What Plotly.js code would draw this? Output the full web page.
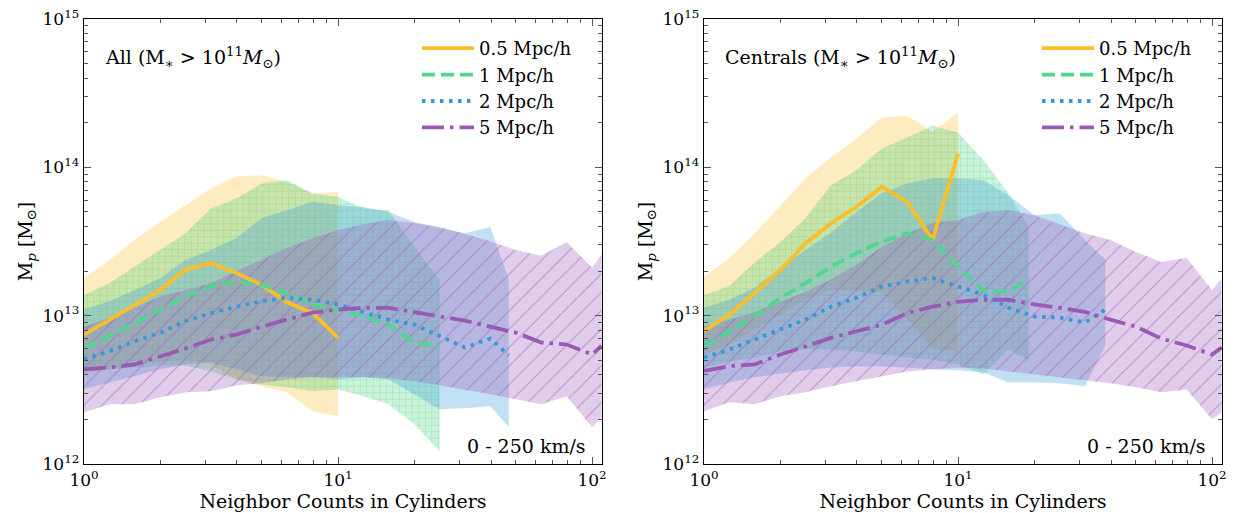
<!DOCTYPE html>
<html><head><meta charset="utf-8">
<script src="https://cdn.plot.ly/plotly-3.0.1.min.js"></script>
<style>html,body{margin:0;padding:0;background:#fff}#chart{width:1242px;height:513px}</style>
</head><body><div id="chart"></div>
<script>
// ---------- tick labels ----------
const xTickVals = [1, 10, 100];
const xTickText = ['10<sup>0</sup>', '10<sup>1</sup>', '10<sup>2</sup>'];
const yTickVals = [1e12, 1e13, 1e14, 1e15];
const yTickText = ['10<sup>12</sup>', '10<sup>13</sup>', '10<sup>14</sup>', '10<sup>15</sup>'];
const seriesNames = ['0.5 Mpc/h', '1 Mpc/h', '2 Mpc/h', '5 Mpc/h'];

// ---------- Left panel: All (M* > 1e11) ----------
const all_x_05   = [1, 1.26, 1.58, 2, 2.51, 3.16, 3.98, 5.01, 6.31, 7.94, 10];
const all_med_05 = [7.45e12, 9.4e12, 1.19e13, 1.49e13, 2.04e13, 2.26e13, 1.94e13, 1.61e13, 1.23e13, 1.04e13, 7.08e12];
const all_hi_05  = [1.79e13, 2.38e13, 3.24e13, 4.3e13, 5.56e13, 7.19e13, 8.71e13, 8.84e13, 7.97e13, 6.67e13, 6.83e13];
const all_lo_05  = [4.02e12, 4.35e12, 4.69e12, 4.91e12, 5.07e12, 4.69e12, 3.72e12, 3.34e12, 3.04e12, 2.27e12, 2.1e12];

const all_x_1    = [1, 1.26, 1.58, 2, 2.51, 3.16, 3.98, 5.01, 6.31, 7.94, 10, 12.6, 15.8, 20, 25.1];
const all_med_1  = [6.08e12, 7.27e12, 8.94e12, 1.1e13, 1.35e13, 1.57e13, 1.7e13, 1.61e13, 1.42e13, 1.19e13, 1.1e13, 9.89e12, 8.7e12, 6.59e12, 6.2e12];
const all_hi_1   = [1.38e13, 1.66e13, 2.14e13, 2.77e13, 3.6e13, 5.28e13, 6.17e13, 7.81e13, 8.18e13, 6.67e13, 6.32e13, 5.28e13, 5.14e13, 2.92e13, 1.75e13];
const all_lo_1   = [4.21e12, 4.35e12, 4.48e12, 4.62e12, 4.62e12, 4.21e12, 3.72e12, 3.44e12, 3.29e12, 3.09e12, 3.18e12, 2.86e12, 2.53e12, 1.85e12, 1.22e12];

const all_x_2    = [1, 1.26, 1.58, 2, 2.51, 3.16, 3.98, 5.01, 6.31, 7.94, 10, 12.6, 15.8, 20, 25.1, 31.6, 39.8, 47];
const all_med_2  = [5.07e12, 5.76e12, 6.72e12, 7.67e12, 9.2e12, 1.04e13, 1.15e13, 1.25e13, 1.32e13, 1.28e13, 1.19e13, 1.05e13, 9.4e12, 8.7e12, 7.34e12, 6.1e12, 7.01e12, 5.39e12];
const all_hi_2   = [1.1e13, 1.25e13, 1.49e13, 1.79e13, 2.38e13, 2.77e13, 3.34e13, 4.55e13, 5.14e13, 5.85e13, 5.56e13, 5.4e13, 4.99e13, 4.28e13, 3.9e13, 3.6e13, 3.96e13, 1.75e13];
const all_lo_2   = [3.18e12, 3.55e12, 3.9e12, 4.35e12, 4.69e12, 4.84e12, 4.35e12, 3.9e12, 3.84e12, 3.84e12, 3.72e12, 3.84e12, 3.72e12, 2.95e12, 2.34e12, 2.38e12, 2.45e12, 1.77e12];

const all_x_5    = [1, 1.26, 1.58, 2, 2.51, 3.16, 3.98, 5.01, 6.31, 7.94, 10, 12.6, 15.8, 20, 25.1, 31.6, 39.8, 50.1, 63.1, 79.4, 100, 109];
const all_med_5  = [4.35e12, 4.48e12, 4.69e12, 5.31e12, 6.01e12, 6.9e12, 7.45e12, 8.44e12, 9.4e12, 1.05e13, 1.1e13, 1.13e13, 1.13e13, 1.05e13, 9.87e12, 9.25e12, 8.44e12, 7.69e12, 6.59e12, 6.39e12, 5.47e12, 6.29e12];
const all_hi_5   = [8.44e12, 9.7e12, 1.13e13, 1.35e13, 1.49e13, 1.66e13, 2.0e13, 2.38e13, 2.86e13, 3.34e13, 3.78e13, 4.14e13, 4.41e13, 4.21e13, 3.96e13, 3.55e13, 3.18e13, 2.77e13, 2.53e13, 3.14e13, 2.1e13, 2.57e13];
const all_lo_5   = [2.23e12, 2.53e12, 2.53e12, 2.82e12, 3.04e12, 3.09e12, 3.39e12, 3.5e12, 3.72e12, 3.84e12, 3.84e12, 3.84e12, 3.78e12, 3.61e12, 3.39e12, 3.18e12, 2.95e12, 2.73e12, 2.53e12, 2.86e12, 1.77e12, 2.07e12];

// ---------- Right panel: Centrals (M* > 1e11) ----------
const cen_x_05   = [1, 1.26, 1.58, 2, 2.51, 3.16, 3.98, 5.01, 6.31, 7.94, 10];
const cen_med_05 = [7.85e12, 1.02e13, 1.42e13, 2.04e13, 3.08e13, 4.2e13, 5.42e13, 7.38e13, 5.85e13, 3.24e13, 1.24e14];
const cen_hi_05  = [1.84e13, 2.44e13, 3.58e13, 5.56e13, 8.4e13, 1.17e14, 1.56e14, 2.17e14, 2.23e14, 1.73e14, 2.35e14];
const cen_lo_05  = [5.47e12, 6.39e12, 8.05e12, 1.02e13, 1.28e13, 1.49e13, 1.47e13, 1.43e13, 9.4e12, 5.92e12, 5.74e12];

const cen_x_1    = [1, 1.26, 1.58, 2, 2.51, 3.16, 3.98, 5.01, 6.31, 7.94, 10, 12.6, 15.8, 19];
const cen_med_1  = [6.2e12, 7.85e12, 9.89e12, 1.32e13, 1.66e13, 2.14e13, 2.64e13, 3.16e13, 3.6e13, 3.24e13, 2.14e13, 1.47e13, 1.45e13, 1.75e13];
const cen_hi_1   = [1.38e13, 1.59e13, 2.27e13, 3.14e13, 4.55e13, 7.57e13, 9.55e13, 1.34e14, 1.59e14, 1.91e14, 1.72e14, 1.11e14, 6.7e13, 3.96e13];
const cen_lo_1   = [4.48e12, 4.91e12, 5.2e12, 5.74e12, 5.92e12, 5.92e12, 5.74e12, 5.47e12, 5.2e12, 5.07e12, 4.69e12, 4.02e12, 5.92e12, 4.98e12];

const cen_x_2    = [1, 1.26, 1.58, 2, 2.51, 3.16, 3.98, 5.01, 6.31, 7.94, 10, 12.6, 15.8, 20, 25.1, 31.6, 38];
const cen_med_2  = [5.2e12, 5.92e12, 6.9e12, 8.05e12, 9.4e12, 1.15e13, 1.32e13, 1.57e13, 1.7e13, 1.79e13, 1.57e13, 1.38e13, 1.13e13, 9.87e12, 9.7e12, 9.0e12, 1.1e13];
const cen_hi_2   = [1.13e13, 1.28e13, 1.54e13, 2.1e13, 2.77e13, 3.62e13, 4.99e13, 6.7e13, 7.81e13, 8.44e13, 8.44e13, 8.18e13, 6.49e13, 4.76e13, 4.91e13, 3.24e13, 2.38e13];
const cen_lo_2   = [3.18e12, 3.55e12, 3.84e12, 4.08e12, 4.28e12, 4.48e12, 4.55e12, 4.55e12, 4.48e12, 4.35e12, 4.28e12, 4.14e12, 3.55e12, 3.55e12, 3.5e12, 3.34e12, 6.29e12];

const cen_x_5    = [1, 1.26, 1.58, 2, 2.51, 3.16, 3.98, 5.01, 6.31, 7.94, 10, 12.6, 15.8, 20, 25.1, 31.6, 39.8, 50.1, 63.1, 79.4, 100, 109];
const cen_med_5  = [4.24e12, 4.57e12, 4.69e12, 5.47e12, 6.2e12, 7.08e12, 7.85e12, 8.7e12, 1.04e13, 1.15e13, 1.24e13, 1.28e13, 1.28e13, 1.19e13, 1.13e13, 1.06e13, 9.4e12, 8.44e12, 7.01e12, 6.29e12, 5.47e12, 6.1e12];
const cen_hi_5   = [8.44e12, 9.4e12, 1.06e13, 1.25e13, 1.45e13, 1.75e13, 2.2e13, 2.9e13, 3.6e13, 4.21e13, 4.41e13, 4.99e13, 5.14e13, 4.76e13, 4.14e13, 3.6e13, 3.24e13, 2.69e13, 2.3e13, 2.45e13, 1.49e13, 1.79e13];
const cen_lo_5   = [2.27e12, 2.61e12, 2.53e12, 2.86e12, 3.04e12, 3.34e12, 3.61e12, 3.9e12, 4.21e12, 4.35e12, 4.48e12, 4.41e12, 4.21e12, 4.02e12, 3.84e12, 3.66e12, 3.5e12, 3.29e12, 3.04e12, 3.18e12, 2.0e12, 2.23e12];

// ---------- styles ----------
const lineColors = ['#fdbe2a', '#50d68d', '#3498db', '#9b59b6'];
const lineDash   = ['solid', '13px,6px', '3.5px,5.5px', '22px,6px,3.5px,6px'];
const bandFill   = ['rgba(253,190,42,0.30)', 'rgba(46,204,113,0.25)', 'rgba(52,152,219,0.30)', 'rgba(155,89,182,0.30)'];
const bandPattern = [null,
  {shape: '+', size: 6.5, solidity: 0.12, bgcolor: 'rgba(46,204,113,0.25)', fgcolor: 'rgba(46,204,113,0.45)', fgopacity: 1},
  null,
  {shape: '/', size: 13, solidity: 0.08, bgcolor: 'rgba(155,89,182,0.30)', fgcolor: 'rgba(155,89,182,0.55)', fgopacity: 1}];

const FONT = 'DejaVu Serif, serif';
const panels = [
  {xa: 'x', ya: 'y', leg: 'legend', sets: [
    [all_x_05, all_med_05, all_lo_05, all_hi_05],
    [all_x_1, all_med_1, all_lo_1, all_hi_1],
    [all_x_2, all_med_2, all_lo_2, all_hi_2],
    [all_x_5, all_med_5, all_lo_5, all_hi_5]]},
  {xa: 'x2', ya: 'y2', leg: 'legend2', sets: [
    [cen_x_05, cen_med_05, cen_lo_05, cen_hi_05],
    [cen_x_1, cen_med_1, cen_lo_1, cen_hi_1],
    [cen_x_2, cen_med_2, cen_lo_2, cen_hi_2],
    [cen_x_5, cen_med_5, cen_lo_5, cen_hi_5]]}
];

const traces = [];
panels.forEach(p => {
  p.sets.forEach((s, i) => {
    traces.push({x: s[0], y: s[2], xaxis: p.xa, yaxis: p.ya, mode: 'lines',
      line: {width: 0, color: 'rgba(0,0,0,0)'}, showlegend: false, hoverinfo: 'skip'});
    const up = {x: s[0], y: s[3], xaxis: p.xa, yaxis: p.ya, mode: 'lines',
      line: {width: 0, color: 'rgba(0,0,0,0)'}, fill: 'tonexty', fillcolor: bandFill[i],
      showlegend: false, hoverinfo: 'skip'};
    if (bandPattern[i]) up.fillpattern = bandPattern[i];
    traces.push(up);
  });
});
panels.forEach(p => {
  p.sets.forEach((s, i) => {
    traces.push({x: s[0], y: s[1], xaxis: p.xa, yaxis: p.ya, mode: 'lines', name: seriesNames[i],
      legend: p.leg, line: {color: lineColors[i], width: 3.8, dash: lineDash[i]}});
  });
});

const W = 1242, H = 513;
const TOP = 19, BOT = 464;
const minorX = [], minorY = [];
[1, 10, 100].forEach(d => { for (let k = 2; k <= 9; k++) minorX.push(k * d); });
[1e12, 1e13, 1e14].forEach(d => { for (let k = 2; k <= 9; k++) minorY.push(k * d); });

function xax(dom) {
  return {domain: dom, type: 'log', range: [0, 2.039], showgrid: false, zeroline: false,
    showline: true, linecolor: '#000', linewidth: 1.3, mirror: 'ticks',
    ticks: 'inside', ticklen: 7, tickwidth: 1, tickcolor: '#555',
    tickmode: 'array', tickvals: xTickVals, ticktext: xTickText,
    tickfont: {family: FONT, size: 17, color: '#000'},
    minor: {ticks: 'inside', ticklen: 4, tickwidth: 1, tickcolor: '#555', tickmode: 'array', tickvals: minorX},
    title: {text: 'Neighbor Counts in Cylinders', font: {family: FONT, size: 19, color: '#000'}, standoff: 3}};
}
function yax(anchor) {
  return {domain: [1 - BOT / H, 1 - TOP / H], anchor: anchor, type: 'log', range: [12, 15], showgrid: false, zeroline: false,
    showline: true, linecolor: '#000', linewidth: 1.3, mirror: 'ticks',
    ticks: 'inside', ticklen: 7, tickwidth: 1, tickcolor: '#555',
    tickmode: 'array', tickvals: yTickVals, ticktext: yTickText,
    tickfont: {family: FONT, size: 17, color: '#000'},
    minor: {ticks: 'inside', ticklen: 4, tickwidth: 1, tickcolor: '#555', tickmode: 'array', tickvals: minorY},
    title: {text: 'M<sub><i>p</i></sub> [M<sub>⊙</sub>]', font: {family: FONT, size: 19, color: '#000'}, standoff: 5}};
}

const legendBase = {font: {family: FONT, size: 18, color: '#000'}, bgcolor: 'rgba(0,0,0,0)', borderwidth: 0,
  xanchor: 'left', yanchor: 'top', tracegroupgap: 0, itemwidth: 52, traceorder: 'normal'};

const layout = {
  width: W, height: H, margin: {l: 0, r: 0, t: 0, b: 0}, paper_bgcolor: '#fff', plot_bgcolor: '#fff',
  xaxis: Object.assign(xax([84 / W, 602 / W]), {anchor: 'y'}),
  yaxis: yax('x'),
  xaxis2: Object.assign(xax([704 / W, 1222 / W]), {anchor: 'y2'}),
  yaxis2: yax('x2'),
  legend: Object.assign({}, legendBase, {x: 417 / W, y: 1 - 30 / H}),
  legend2: Object.assign({}, legendBase, {x: 1037 / W, y: 1 - 30 / H}),
  annotations: [
    {xref: 'paper', yref: 'paper', x: 103 / W, y: 1 - 57 / H, xanchor: 'left', yanchor: 'middle', showarrow: false,
     text: 'All (M<sub>∗</sub> > 10<sup>11</sup><i>M</i><sub>⊙</sub>)', font: {family: FONT, size: 19, color: '#000'}},
    {xref: 'paper', yref: 'paper', x: 723 / W, y: 1 - 57 / H, xanchor: 'left', yanchor: 'middle', showarrow: false,
     text: 'Centrals (M<sub>∗</sub> > 10<sup>11</sup><i>M</i><sub>⊙</sub>)', font: {family: FONT, size: 19, color: '#000'}},
    {xref: 'paper', yref: 'paper', x: 588 / W, y: 1 - 446 / H, xanchor: 'right', yanchor: 'middle', showarrow: false,
     text: '0 - 250 km/s', font: {family: FONT, size: 19, color: '#000'}},
    {xref: 'paper', yref: 'paper', x: 1208 / W, y: 1 - 446 / H, xanchor: 'right', yanchor: 'middle', showarrow: false,
     text: '0 - 250 km/s', font: {family: FONT, size: 19, color: '#000'}}
  ]
};

Plotly.newPlot('chart', traces, layout, {staticPlot: true, displayModeBar: false});
</script></body></html>
